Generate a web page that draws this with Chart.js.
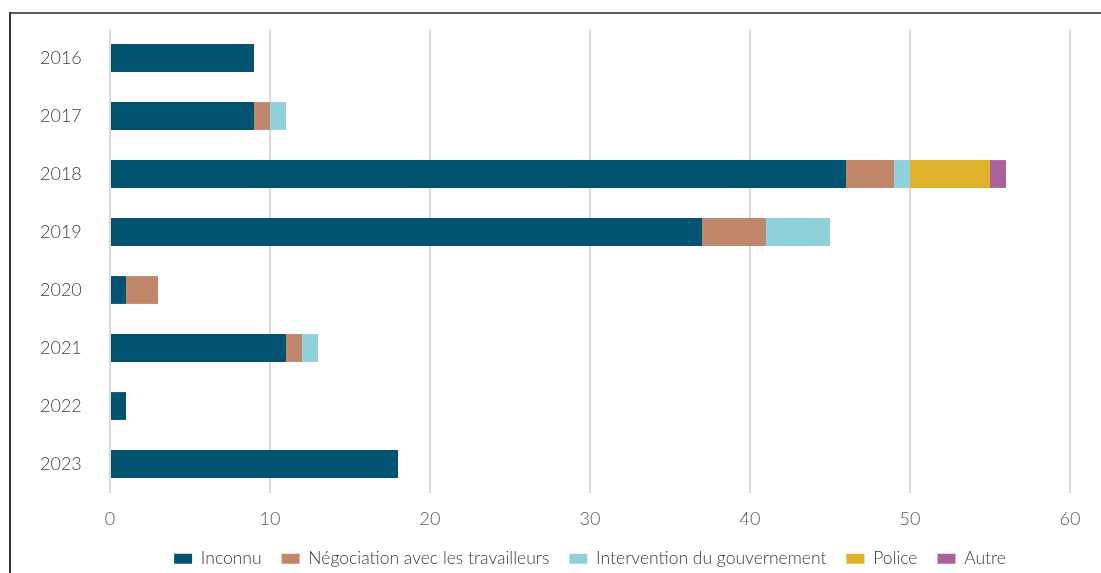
<!DOCTYPE html>
<html lang="fr">
<head>
  <meta charset="UTF-8">
  <title>Issue des conflits</title>
  <script src="https://cdn.jsdelivr.net/npm/chart.js"></script>
  <style>
    body {
      margin: 0;
      background: #fff;
      font-family: Lato, sans-serif;
    }
    .wrap {
      position: relative;
      width: 1101px;
      height: 573px;
      overflow: hidden;
    }
    .frame-top {
      position: absolute;
      left: 9px;
      top: 12px;
      width: 1092px;
      height: 2px;
      background: #5c5c5c;
    }
    .frame-left {
      position: absolute;
      left: 9px;
      top: 12px;
      width: 2px;
      height: 561px;
      background: #333;
    }
    canvas {
      position: absolute;
      left: 0;
      top: 0;
    }
  </style>
</head>
<body>
  <div class="wrap">
    <div class="frame-top"></div>
    <div class="frame-left"></div>
    <canvas id="outcomeChart" width="1101" height="573"></canvas>
  </div>

  <script>
    const years = ['2016', '2017', '2018', '2019', '2020', '2021', '2022', '2023'];

    const inconnu      = [9, 9, 46, 37, 1, 11, 1, 18];
    const negociation  = [0, 1, 3, 4, 2, 1, 0, 0];
    const intervention = [0, 1, 1, 4, 0, 1, 0, 0];
    const police       = [0, 0, 5, 0, 0, 0, 0, 0];
    const autre        = [0, 0, 1, 0, 0, 0, 0, 0];

    const xTicks = [0, 10, 20, 30, 40, 50, 60];

    const series = [
      { label: 'Inconnu', data: inconnu, color: '#02536f' },
      { label: 'Négociation avec les travailleurs', data: negociation, color: '#c0876a' },
      { label: 'Intervention du gouvernement', data: intervention, color: '#8ed1db' },
      { label: 'Police', data: police, color: '#e0b22c' },
      { label: 'Autre', data: autre, color: '#a9639a' }
    ];

    // shrink the legend box so it sits low near the bottom edge
    const legendHeight = {
      id: 'legendHeight',
      beforeInit(chart) {
        const fit = chart.legend.fit;
        chart.legend.fit = function () {
          fit.bind(chart.legend)();
          this.height = 43;
        };
      }
    };

    const ctx = document.getElementById('outcomeChart').getContext('2d');
    new Chart(ctx, {
      type: 'bar',
      data: {
        labels: years,
        datasets: series.map(s => ({
          label: s.label,
          data: s.data,
          backgroundColor: s.color,
          borderWidth: 0,
          categoryPercentage: 0.8,
          barPercentage: 0.6
        }))
      },
      options: {
        indexAxis: 'y',
        responsive: false,
        animation: false,
        layout: { padding: { top: 29, right: 31, left: 40, bottom: 0 } },
        scales: {
          x: {
            stacked: true,
            min: 0,
            max: 60,
            afterBuildTicks: scale => {
              scale.ticks = xTicks.map(v => ({ value: v }));
            },
            afterFit: scale => { scale.height = 37; },
            grid: { color: '#d9d9d9', lineWidth: 2, drawTicks: false },
            border: { display: false },
            ticks: {
              padding: 15,
              color: '#555',
              font: { family: 'Lato', size: 18, weight: 300 }
            }
          },
          y: {
            stacked: true,
            afterFit: scale => { scale.width = 70; },
            grid: { display: false, drawTicks: false },
            border: { display: false },
            ticks: {
              padding: 0,
              crossAlign: 'far',
              color: '#404040',
              font: { family: 'Lato', size: 18, weight: 300 }
            }
          }
        },
        plugins: {
          legend: {
            position: 'bottom',
            fullSize: false,
            labels: {
              boxWidth: 18,
              boxHeight: 10,
              padding: 20,
              color: '#3a3a3a',
              font: { family: 'Lato', size: 17.5, weight: 300 }
            }
          },
          tooltip: { enabled: false }
        }
      },
      plugins: [legendHeight]
    });
  </script>
</body>
</html>
